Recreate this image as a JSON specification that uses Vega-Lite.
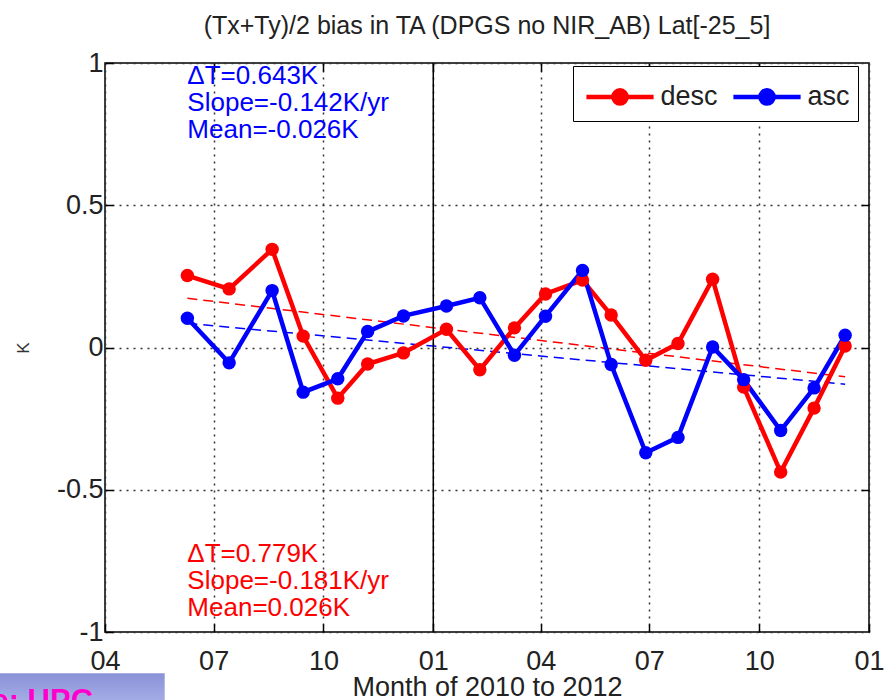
{
  "$schema": "https://vega.github.io/schema/vega-lite/v6.json",
  "width": 764,
  "height": 569,
  "autosize": {"type": "none"},
  "padding": {"left": 105, "top": 63, "right": 25, "bottom": 68},
  "background": "white",
  "config": {
    "font": "Liberation Sans",
    "view": {"stroke": "black", "strokeWidth": 1.5},
    "axis": {"domain": false}
  },
  "title": {
    "text": "(Tx+Ty)/2 bias in TA (DPGS no NIR_AB) Lat[-25_5]",
    "fontSize": 25,
    "fontWeight": "normal",
    "color": "#222222",
    "offset": 10,
    "anchor": "middle"
  },
  "resolve": {"axis": {"x": "independent", "y": "independent"}},
  "datasets": {
    "series": [
      {"date": "2010-06-09", "series": "desc", "value": 0.253},
      {"date": "2010-07-14", "series": "desc", "value": 0.206},
      {"date": "2010-08-19", "series": "desc", "value": 0.345},
      {"date": "2010-09-14", "series": "desc", "value": 0.040},
      {"date": "2010-10-13", "series": "desc", "value": -0.178},
      {"date": "2010-11-07", "series": "desc", "value": -0.058},
      {"date": "2010-12-07", "series": "desc", "value": -0.019},
      {"date": "2011-01-12", "series": "desc", "value": 0.064},
      {"date": "2011-02-09", "series": "desc", "value": -0.078},
      {"date": "2011-03-10", "series": "desc", "value": 0.069},
      {"date": "2011-04-05", "series": "desc", "value": 0.188},
      {"date": "2011-05-06", "series": "desc", "value": 0.237},
      {"date": "2011-05-30", "series": "desc", "value": 0.114},
      {"date": "2011-06-28", "series": "desc", "value": -0.045},
      {"date": "2011-07-25", "series": "desc", "value": 0.014},
      {"date": "2011-08-23", "series": "desc", "value": 0.240},
      {"date": "2011-09-18", "series": "desc", "value": -0.139},
      {"date": "2011-10-19", "series": "desc", "value": -0.438},
      {"date": "2011-11-16", "series": "desc", "value": -0.213},
      {"date": "2011-12-12", "series": "desc", "value": 0.005},
      {"date": "2010-06-09", "series": "asc", "value": 0.103},
      {"date": "2010-07-14", "series": "asc", "value": -0.054},
      {"date": "2010-08-19", "series": "asc", "value": 0.200},
      {"date": "2010-09-14", "series": "asc", "value": -0.157},
      {"date": "2010-10-13", "series": "asc", "value": -0.110},
      {"date": "2010-11-07", "series": "asc", "value": 0.056},
      {"date": "2010-12-07", "series": "asc", "value": 0.111},
      {"date": "2011-01-12", "series": "asc", "value": 0.146},
      {"date": "2011-02-09", "series": "asc", "value": 0.175},
      {"date": "2011-03-10", "series": "asc", "value": -0.027},
      {"date": "2011-04-05", "series": "asc", "value": 0.110},
      {"date": "2011-05-06", "series": "asc", "value": 0.271},
      {"date": "2011-05-30", "series": "asc", "value": -0.060},
      {"date": "2011-06-28", "series": "asc", "value": -0.370},
      {"date": "2011-07-25", "series": "asc", "value": -0.316},
      {"date": "2011-08-23", "series": "asc", "value": 0.002},
      {"date": "2011-09-18", "series": "asc", "value": -0.113},
      {"date": "2011-10-19", "series": "asc", "value": -0.292},
      {"date": "2011-11-16", "series": "asc", "value": -0.142},
      {"date": "2011-12-12", "series": "asc", "value": 0.043}
    ],
    "trend": [
      {"date": "2010-06-09", "series": "desc", "value": 0.173},
      {"date": "2011-12-12", "series": "desc", "value": -0.103},
      {"date": "2010-06-09", "series": "asc", "value": 0.085},
      {"date": "2011-12-12", "series": "asc", "value": -0.129}
    ]
  },
  "layer": [
    {
      "data": {"name": "trend"},
      "mark": {"type": "line", "strokeWidth": 1.5, "strokeDash": [10, 6]},
      "encoding": {
        "x": {
          "field": "date", "type": "temporal",
          "scale": {"type": "utc", "domain": [{"year": 2010, "month": 4, "date": 1, "utc": true}, {"year": 2012, "month": 1, "date": 1, "utc": true}], "nice": false},
          "axis": {
            "orient": "bottom",
            "title": "Month of 2010 to 2012",
            "titleFontSize": 27, "titleFontWeight": "normal", "titleColor": "#222222", "titlePadding": 0,
            "values": [
              {"year": 2010, "month": 4, "date": 1, "utc": true},
              {"year": 2010, "month": 7, "date": 1, "utc": true},
              {"year": 2010, "month": 10, "date": 1, "utc": true},
              {"year": 2011, "month": 1, "date": 1, "utc": true},
              {"year": 2011, "month": 4, "date": 1, "utc": true},
              {"year": 2011, "month": 7, "date": 1, "utc": true},
              {"year": 2011, "month": 10, "date": 1, "utc": true},
              {"year": 2012, "month": 1, "date": 1, "utc": true}
            ],
            "labelExpr": "utcFormat(datum.value, '%m')",
            "labelFontSize": 27, "labelColor": "#222222", "labelPadding": 24, "labelFlush": false,
            "labelOverlap": false,
            "tickSize": -8, "tickColor": "black", "tickWidth": 1.5,
            "grid": true, "gridColor": "#333333", "gridDash": [2, 5], "gridWidth": 1.5
          }
        },
        "y": {
          "field": "value", "type": "quantitative",
          "scale": {"domain": [-1, 1], "nice": false, "zero": false},
          "axis": {
            "orient": "left",
            "title": "K",
            "titleFontSize": 17, "titleFontWeight": "normal", "titleColor": "#333333", "titlePadding": 24,
            "values": [-1, -0.5, 0, 0.5, 1],
            "labelExpr": "'' + datum.value",
            "labelFontSize": 27, "labelColor": "#222222", "labelPadding": 10,
            "labelFlush": false, "labelOverlap": false,
            "tickSize": -8, "tickColor": "black", "tickWidth": 1.5,
            "grid": true, "gridColor": "#333333", "gridDash": [2, 5], "gridWidth": 1.5
          }
        },
        "color": {
          "field": "series", "type": "nominal",
          "scale": {"domain": ["desc", "asc"], "range": ["#ff0000", "#0000ff"]},
          "legend": {
            "title": null,
            "orient": "none", "legendX": 468, "legendY": 3,
            "direction": "horizontal",
            "padding": 8,
            "strokeColor": "black", "fillColor": "white", "cornerRadius": 0,
            "symbolType": "M-1.68,0L1.68,0M-0.33,0A0.33,0.33 0 1,0 0.33,0A0.33,0.33 0 1,0 -0.33,0Z",
            "symbolSize": 1600,
            "symbolStrokeWidth": 4.5,
            "symbolOffset": 16.5,
            "labelFontSize": 27, "labelColor": "#222222", "labelOffset": 18,
            "columnPadding": 6,
            "encode": {
              "symbols": {"update": {
                "fill": {"scale": "color", "field": "value"},
                "stroke": {"scale": "color", "field": "value"},
                "strokeDash": {"value": []},
                "opacity": {"value": 1}
              }}
            }
          }
        }
      }
    },
    {
      "data": {"values": [{}]},
      "mark": {"type": "rule", "color": "black", "strokeWidth": 1.5},
      "encoding": {
        "x": {"datum": {"year": 2011, "month": 1, "date": 1, "utc": true}, "type": "temporal", "scale": {"type": "utc"}, "axis": null}
      }
    },
    {
      "data": {"name": "series"},
      "mark": {"type": "line", "strokeWidth": 4.5},
      "encoding": {
        "x": {"field": "date", "type": "temporal", "scale": {"type": "utc"}, "axis": null},
        "y": {"field": "value", "type": "quantitative", "axis": null},
        "color": {
          "field": "series", "type": "nominal",
          "scale": {"domain": ["desc", "asc"], "range": ["#ff0000", "#0000ff"]}
        },
        "order": {"field": "date", "type": "temporal"}
      }
    },
    {
      "data": {"name": "series"},
      "mark": {"type": "point", "filled": true, "size": 180, "opacity": 1, "shape": "circle"},
      "encoding": {
        "x": {
          "field": "date", "type": "temporal", "scale": {"type": "utc"},
          "axis": {
            "orient": "top", "title": null, "labels": false, "grid": false,
            "values": [
              {"year": 2010, "month": 7, "date": 1, "utc": true},
              {"year": 2010, "month": 10, "date": 1, "utc": true},
              {"year": 2011, "month": 1, "date": 1, "utc": true},
              {"year": 2011, "month": 4, "date": 1, "utc": true},
              {"year": 2011, "month": 7, "date": 1, "utc": true},
              {"year": 2011, "month": 10, "date": 1, "utc": true}
            ],
            "tickSize": -8, "tickColor": "black", "tickWidth": 1.5
          }
        },
        "y": {
          "field": "value", "type": "quantitative",
          "axis": {
            "orient": "right", "title": null, "labels": false, "grid": false,
            "values": [-0.5, 0, 0.5],
            "tickSize": -8, "tickColor": "black", "tickWidth": 1.5
          }
        },
        "color": {
          "field": "series", "type": "nominal",
          "scale": {"domain": ["desc", "asc"], "range": ["#ff0000", "#0000ff"]}
        }
      }
    },
    {
      "data": {"values": [{}]},
      "mark": {"type": "text", "text": ["ΔT=0.643K", "Slope=-0.142K/yr", "Mean=-0.026K"], "align": "left", "baseline": "top", "fontSize": 26, "lineHeight": 27, "color": "#0000ff"},
      "encoding": {
        "x": {"datum": {"year": 2010, "month": 6, "date": 9, "utc": true}, "type": "temporal", "scale": {"type": "utc"}, "axis": null},
        "y": {"datum": 1.0, "type": "quantitative", "axis": null}
      }
    },
    {
      "data": {"values": [{}]},
      "mark": {"type": "text", "text": ["ΔT=0.779K", "Slope=-0.181K/yr", "Mean=0.026K"], "align": "left", "baseline": "top", "fontSize": 26, "lineHeight": 27, "color": "#ff0000"},
      "encoding": {
        "x": {"datum": {"year": 2010, "month": 6, "date": 9, "utc": true}, "type": "temporal", "scale": {"type": "utc"}, "axis": null},
        "y": {"datum": -0.68, "type": "quantitative", "axis": null}
      }
    },
    {
      "data": {"values": [{}]},
      "mark": {"type": "rect", "clip": false, "color": {"gradient": "linear", "x1": 0, "y1": 0, "x2": 0, "y2": 1, "stops": [{"offset": 0, "color": "#8a92d8"}, {"offset": 1, "color": "#b4bbee"}]}},
      "encoding": {
        "x": {"datum": {"year": 2010, "month": 1, "date": 1, "utc": true}, "type": "temporal", "scale": {"type": "utc"}, "axis": null},
        "x2": {"datum": {"year": 2010, "month": 5, "date": 21, "utc": true}},
        "y": {"datum": -1.145, "type": "quantitative", "axis": null},
        "y2": {"datum": -1.3}
      }
    },
    {
      "data": {"values": [{}]},
      "mark": {"type": "text", "text": "Source: UPC", "clip": false, "align": "right", "baseline": "alphabetic", "fontSize": 31, "fontWeight": "bold", "color": "#ff00cc"},
      "encoding": {
        "x": {"datum": {"year": 2010, "month": 3, "date": 22, "utc": true}, "type": "temporal", "scale": {"type": "utc"}, "axis": null},
        "y": {"datum": -1.278, "type": "quantitative", "axis": null}
      }
    }
  ]
}
